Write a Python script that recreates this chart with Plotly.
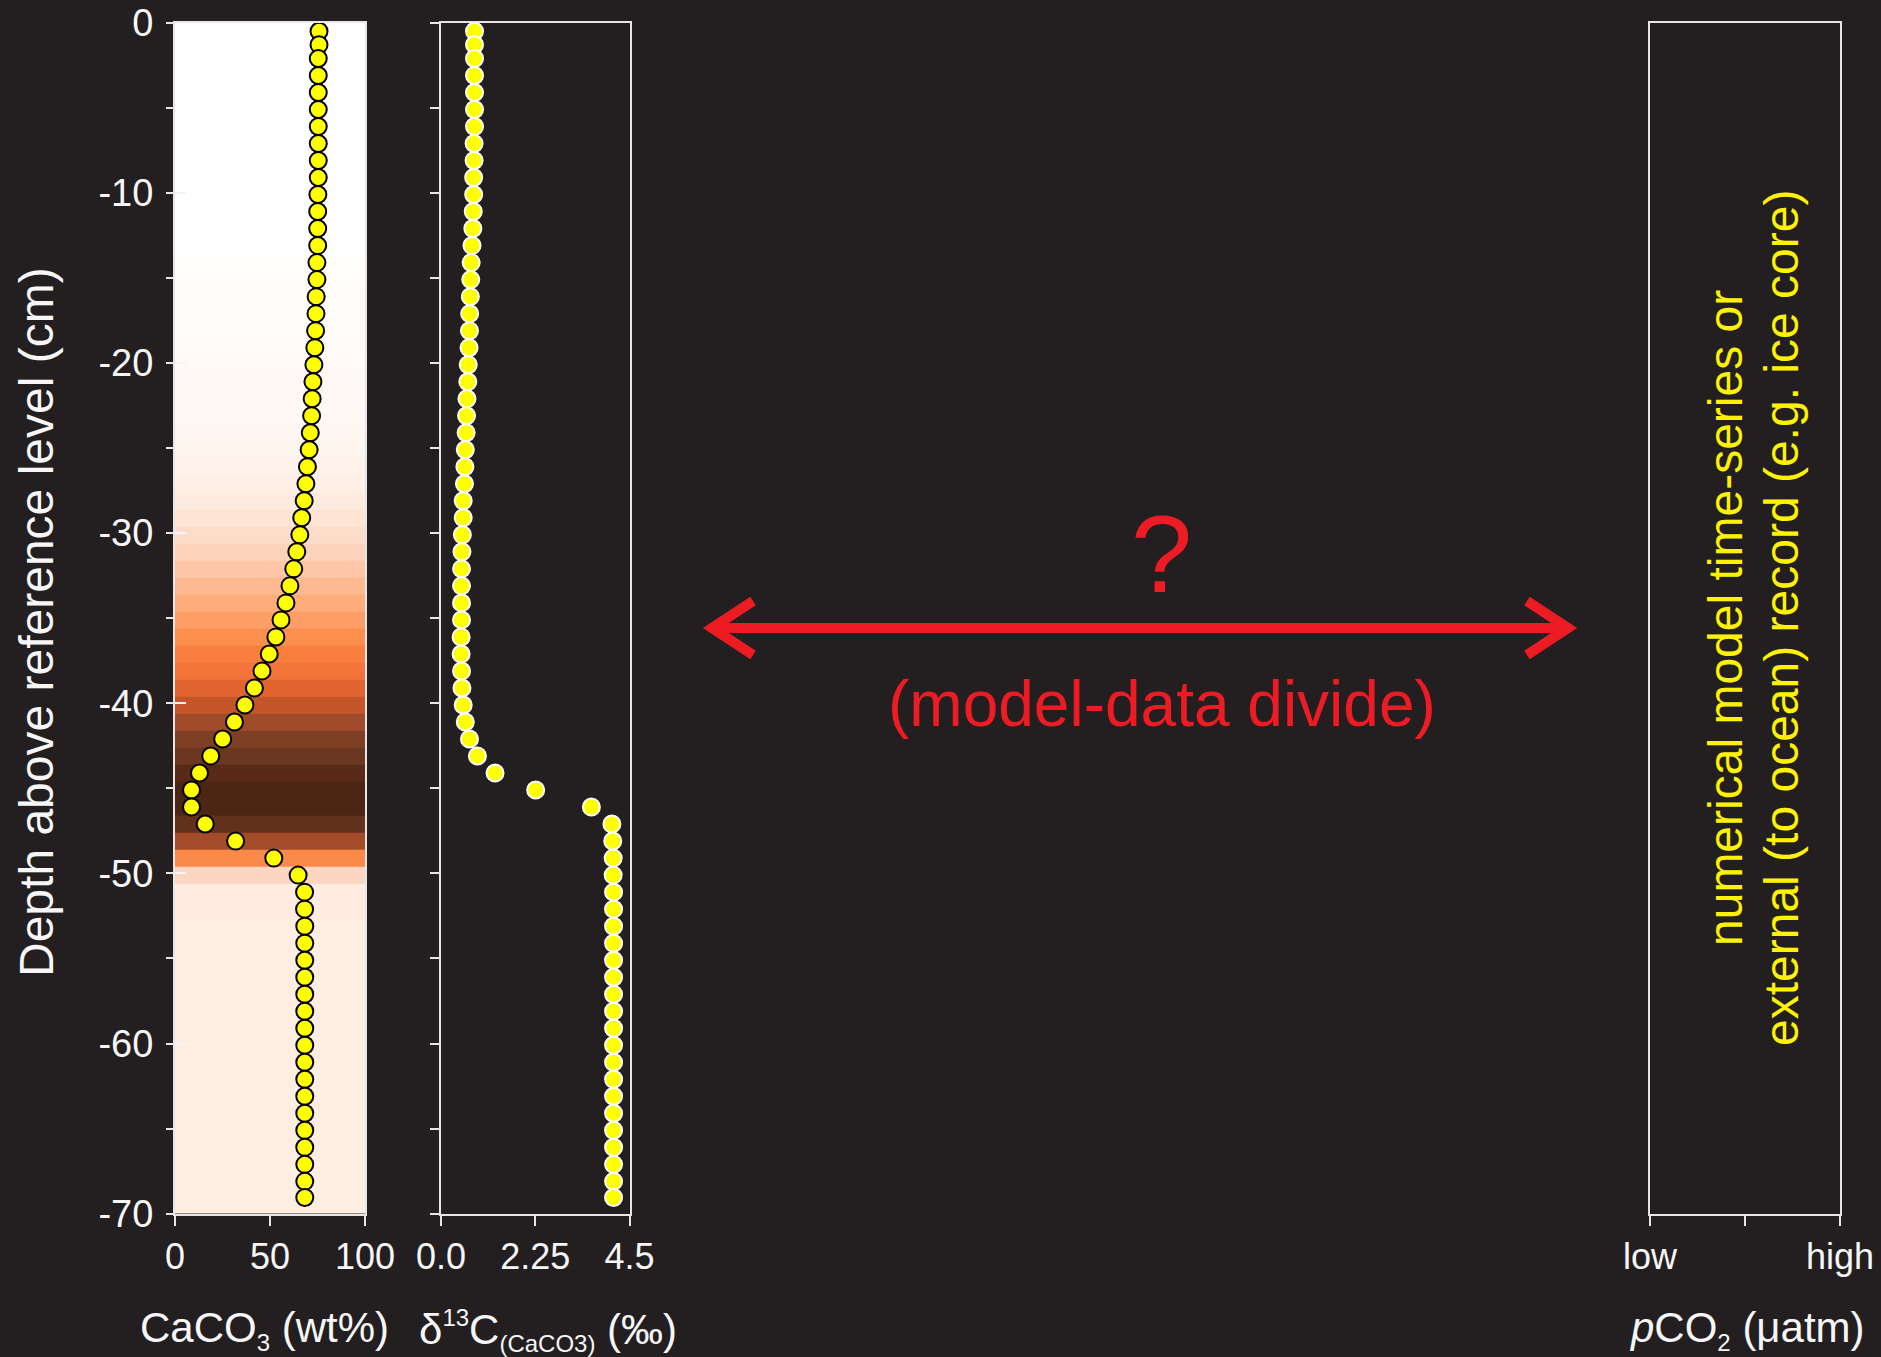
import plotly.graph_objects as go

W, H = 1881, 1357

# ---------------- data ----------------
depth_cm = [-0.5, -1.3, -2.1, -3.1, -4.1, -5.1, -6.1, -7.1, -8.1, -9.1,
            -10.1, -11.1, -12.1, -13.1, -14.1, -15.1, -16.1, -17.1, -18.1, -19.1,
            -20.1, -21.1, -22.1, -23.1, -24.1, -25.1, -26.1, -27.1, -28.1, -29.1,
            -30.1, -31.1, -32.1, -33.1, -34.1, -35.1, -36.1, -37.1, -38.1, -39.1,
            -40.1, -41.1, -42.1, -43.1, -44.1, -45.1, -46.1, -47.1, -48.1, -49.1,
            -50.1, -51.1, -52.1, -53.1, -54.1, -55.1, -56.1, -57.1, -58.1, -59.1,
            -60.1, -61.1, -62.1, -63.1, -64.1, -65.1, -66.1, -67.1, -68.1, -69.05]

caco3_wt = [75.8, 75.8, 75.4, 75.4, 75.4, 75.4, 75.4, 75.4, 75.4, 75.4,
            75.2, 75.1, 75.1, 75.1, 74.7, 74.7, 74.3, 74.2, 74.0, 73.6,
            73.1, 72.6, 72.2, 71.9, 71.2, 70.6, 69.7, 68.9, 68.0, 66.7,
            65.7, 64.1, 62.5, 60.5, 58.4, 55.8, 53.1, 49.6, 45.8, 41.8,
            36.8, 31.3, 25.1, 18.8, 12.9, 8.7, 8.7, 15.9, 31.9, 52.0,
            64.8, 68.2, 68.2, 68.3, 68.3, 68.3, 68.3, 68.3, 68.3, 68.3,
            68.3, 68.3, 68.3, 68.3, 68.3, 68.3, 68.3, 68.3, 68.3, 68.3]

d13c_permil = [0.80, 0.80, 0.80, 0.80, 0.80, 0.80, 0.80, 0.79, 0.79, 0.78,
               0.78, 0.77, 0.76, 0.74, 0.72, 0.71, 0.70, 0.685, 0.68, 0.67,
               0.65, 0.64, 0.62, 0.61, 0.60, 0.58, 0.57, 0.56, 0.53, 0.53,
               0.51, 0.50, 0.49, 0.49, 0.49, 0.49, 0.48, 0.48, 0.49, 0.50,
               0.53, 0.58, 0.68, 0.87, 1.29, 2.26, 3.59, 4.08, 4.10, 4.11,
               4.11, 4.12, 4.12, 4.12, 4.12, 4.12, 4.12, 4.12, 4.12, 4.12,
               4.12, 4.12, 4.12, 4.12, 4.12, 4.12, 4.12, 4.12, 4.12, 4.12]

depth_major_ticks = [0, -10, -20, -30, -40, -50, -60, -70]
depth_major_labels = ["0", "-10", "-20", "-30", "-40", "-50", "-60", "-70"]
depth_minor_ticks = [-5, -15, -25, -35, -45, -55, -65]

caco3_ticks = [0, 50, 100]
caco3_labels = ["0", "50", "100"]
d13c_ticks = [0, 2.25, 4.5]
d13c_labels = ["0.0", "2.25", "4.5"]
pco2_ticks = [0, 1]
pco2_labels = ["low", "high"]
pco2_minor_ticks = [0.5]

# ---------------- style ----------------
BG = "#231F20"
AXC = "#E6E6E6"
TXT = "#F6F6F6"
RED = "#ED1C24"
YEL = "#FFF200"
FONT = "Liberation Sans, Arial, Helvetica, sans-serif"

# colour scale for the sediment column (CaCO3 wt% -> colour)
band_scale = [
    [0.000, "#4D2515"], [0.087, "#4D2515"], [0.129, "#592A18"], [0.188, "#6B3720"],
    [0.251, "#7E3F24"], [0.313, "#A04B29"], [0.368, "#C5562A"], [0.418, "#E2652F"],
    [0.458, "#F4733A"], [0.496, "#FA7F3F"], [0.531, "#FC8E4E"], [0.558, "#FC9E66"],
    [0.584, "#FDAD7C"], [0.605, "#FDBA90"], [0.625, "#FDC7A7"], [0.641, "#FDD2BA"],
    [0.657, "#FEDCCA"], [0.667, "#FEE4D5"], [0.680, "#FEEBDF"], [0.690, "#FEF0E7"],
    [0.705, "#FEF4EE"], [0.720, "#FFF8F3"], [0.740, "#FFFCFA"], [0.752, "#FFFFFF"],
    [1.000, "#FFFFFF"],
]


def px_x(p):
    return p / W


def px_y(p):
    return 1 - p / H


# band edges between sample depths (top of core at 0, bottom of panel at -70)
edges = [0.0] + [(a + b) / 2 for a, b in zip(depth_cm[:-1], depth_cm[1:])] + [-70.0]

fig = go.Figure()

fig.add_trace(go.Heatmap(
    x=[0, 100], y=edges, z=[[v] for v in caco3_wt],
    zmin=0, zmax=100, colorscale=band_scale, showscale=False,
    xaxis="x", yaxis="y", hoverinfo="skip"))

fig.add_trace(go.Scatter(
    x=caco3_wt, y=depth_cm, mode="markers", xaxis="x", yaxis="y",
    marker=dict(size=17, color="#FFFF00", line=dict(color="#000000", width=2)),
    showlegend=False))

fig.add_trace(go.Scatter(
    x=[], y=[], mode="markers", xaxis="x", yaxis="y4", showlegend=False,
    hoverinfo="skip"))

fig.add_trace(go.Scatter(
    x=d13c_permil, y=depth_cm, mode="markers", xaxis="x2", yaxis="y2",
    marker=dict(size=17, color="#FFFF00", line=dict(color="#FFFFFF", width=2)),
    showlegend=False))

fig.add_trace(go.Scatter(
    x=[], y=[], mode="markers", xaxis="x3", yaxis="y3", showlegend=False,
    hoverinfo="skip"))

ydom = [px_y(1213.7), px_y(22.7)]
tickfont = dict(family=FONT, size=36, color=TXT)

common_x = dict(showline=True, mirror=True, linecolor=AXC, linewidth=2,
                showgrid=False, zeroline=False, ticks="outside", ticklen=10,
                tickwidth=2, tickcolor=AXC, tickfont=tickfont, tickmode="array",
                ticklabelstandoff=0, fixedrange=True)
common_y = dict(showline=True, mirror=True, linecolor=AXC, linewidth=2,
                showgrid=False, zeroline=False, range=[-70, 0], domain=ydom,
                fixedrange=True)

fig.update_layout(
    width=W, height=H,
    margin=dict(l=0, r=0, t=0, b=0, pad=0, autoexpand=False),
    paper_bgcolor=BG, plot_bgcolor=BG,
    showlegend=False,
    font=dict(family=FONT, color=TXT),
    xaxis=dict(domain=[px_x(175), px_x(365)], range=[0, 100], anchor="y",
               tickvals=caco3_ticks, ticktext=caco3_labels, **common_x),
    yaxis=dict(anchor="x", tickmode="array", tickvals=depth_major_ticks,
               ticktext=depth_major_labels, ticks="outside", ticklen=7,
               tickwidth=2, tickcolor=AXC, ticklabelstandoff=5,
               tickfont=dict(family=FONT, size=38, color=TXT),
               minor=dict(tickmode="array", tickvals=depth_minor_ticks,
                          ticks="outside", ticklen=7, tickwidth=2, tickcolor=AXC),
               **common_y),
    yaxis4=dict(overlaying="y", anchor="x", side="left", range=[-70, 0],
                tickmode="array", tickvals=depth_major_ticks, ticks="inside",
                ticklen=11, tickwidth=2, tickcolor="#F4F4F4",
                showticklabels=False, showline=False, showgrid=False,
                zeroline=False, fixedrange=True),
    xaxis2=dict(domain=[px_x(441), px_x(629.5)], range=[0, 4.5], anchor="y2",
                tickvals=d13c_ticks, ticktext=d13c_labels, **common_x),
    yaxis2=dict(anchor="x2", tickmode="array", tickvals=depth_major_ticks,
                showticklabels=False, ticks="outside", ticklen=9, tickwidth=2,
                tickcolor=AXC,
                minor=dict(tickmode="array", tickvals=depth_minor_ticks,
                           ticks="outside", ticklen=9, tickwidth=2, tickcolor=AXC),
                **common_y),
    xaxis3=dict(domain=[px_x(1650), px_x(1840)], range=[0, 1], anchor="y3",
                tickvals=pco2_ticks, ticktext=pco2_labels,
                minor=dict(tickmode="array", tickvals=pco2_minor_ticks,
                           ticks="outside", ticklen=10, tickwidth=2, tickcolor=AXC),
                **common_x),
    yaxis3=dict(anchor="x3", showticklabels=False, ticks="", **common_y),
)

SMALL = "<span style='font-size:24px'>{}</span>"
annots = [
    dict(text="Depth above reference level (cm)", x=px_x(37), y=px_y(622),
         textangle=-90, font=dict(size=48, color=TXT)),
    dict(text="CaCO<sub>" + SMALL.format("3") + "</sub> (wt%)",
         x=px_x(264), y=px_y(1330), font=dict(size=42, color=TXT)),
    dict(text="δ<sup>" + SMALL.format("13") + "</sup>C<sub>" + SMALL.format("(CaCO3)")
         + "</sub> (‰)", x=px_x(548), y=px_y(1330), font=dict(size=42, color=TXT)),
    dict(text="<i>p</i>CO<sub>" + SMALL.format("2") + "</sub> (μatm)",
         x=px_x(1747), y=px_y(1330), font=dict(size=42, color=TXT)),
    dict(text="?", x=px_x(1161), y=px_y(553), font=dict(size=110, color=RED)),
    dict(text="(model-data divide)", x=px_x(1162), y=px_y(704),
         font=dict(size=64, color=RED)),
    dict(text="numerical model time-series or", x=px_x(1726), y=px_y(618),
         textangle=-90, font=dict(size=48, color=YEL)),
    dict(text="external (to ocean) record (e.g. ice core)", x=px_x(1782),
         y=px_y(618), textangle=-90, font=dict(size=48, color=YEL)),
]
for a in annots:
    fig.add_annotation(xref="paper", yref="paper", showarrow=False,
                       xanchor="center", yanchor="middle", **a)


def path(points):
    return "M " + " L ".join(f"{px_x(x):.5f},{px_y(y):.5f}" for x, y in points)


arrow_paths = [
    [(712, 628), (1568, 628)],
    [(753, 601), (712, 628), (753, 655)],
    [(1527, 601), (1568, 628), (1527, 655)],
]
for pts in arrow_paths:
    fig.add_shape(type="path", path=path(pts), xref="paper", yref="paper",
                  line=dict(color=RED, width=10))

fig.write_html(
    "out.html",
    config={"displayModeBar": False},
    post_script="document.body.style.margin='0px';"
                "document.body.style.backgroundColor='#231F20';",
)
